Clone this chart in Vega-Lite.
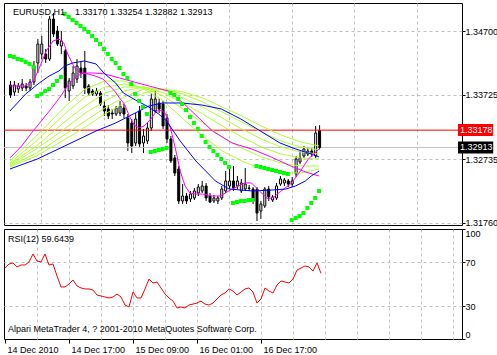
{
  "$schema": "https://vega.github.io/schema/vega-lite/v6.json",
  "padding": {"left": 2, "top": 2, "right": 0, "bottom": 0},
  "background": "white",
  "spacing": 4,
  "bounds": "flush",
  "config": {
    "view": {"stroke": "black", "strokeWidth": 1},
    "font": "Liberation Sans",
    "axis": {"labelFont": "Liberation Sans", "labelFontSize": 9, "labelColor": "black", "tickColor": "black", "gridColor": "#c0c0c0", "gridDash": [3, 3], "gridOpacity": 1, "domain": false}
  },
  "datasets": {
    "candles": [
      {"i":0,"o":1.33871,"h":1.33933,"l":1.33672,"c":1.33718},
      {"i":1,"o":1.33764,"h":1.33933,"l":1.33702,"c":1.33871},
      {"i":2,"o":1.33810,"h":1.33902,"l":1.33748,"c":1.33856},
      {"i":3,"o":1.33825,"h":1.33963,"l":1.33779,"c":1.33886},
      {"i":4,"o":1.33856,"h":1.33902,"l":1.33779,"c":1.33825},
      {"i":5,"o":1.33825,"h":1.33963,"l":1.33779,"c":1.33917},
      {"i":6,"o":1.33917,"h":1.34240,"l":1.33871,"c":1.34163},
      {"i":7,"o":1.34209,"h":1.34577,"l":1.34055,"c":1.34500},
      {"i":8,"o":1.34347,"h":1.34623,"l":1.34270,"c":1.34500},
      {"i":9,"o":1.34347,"h":1.34424,"l":1.34209,"c":1.34270},
      {"i":10,"o":1.34270,"h":1.34930,"l":1.34240,"c":1.34884},
      {"i":11,"o":1.34884,"h":1.34976,"l":1.34608,"c":1.34654},
      {"i":12,"o":1.34700,"h":1.34777,"l":1.34470,"c":1.34500},
      {"i":13,"o":1.34470,"h":1.34700,"l":1.34347,"c":1.34547},
      {"i":14,"o":1.34393,"h":1.34424,"l":1.33672,"c":1.33825},
      {"i":15,"o":1.33779,"h":1.33979,"l":1.33626,"c":1.33933},
      {"i":16,"o":1.33856,"h":1.34163,"l":1.33810,"c":1.34055},
      {"i":17,"o":1.33963,"h":1.34270,"l":1.33902,"c":1.34163},
      {"i":18,"o":1.34132,"h":1.34240,"l":1.33979,"c":1.34055},
      {"i":19,"o":1.34132,"h":1.34393,"l":1.33733,"c":1.33825},
      {"i":20,"o":1.33856,"h":1.33886,"l":1.33702,"c":1.33748},
      {"i":21,"o":1.33779,"h":1.33810,"l":1.33702,"c":1.33733},
      {"i":22,"o":1.33733,"h":1.33825,"l":1.33702,"c":1.33779},
      {"i":23,"o":1.33748,"h":1.33779,"l":1.33549,"c":1.33579},
      {"i":24,"o":1.33549,"h":1.33626,"l":1.33395,"c":1.33472},
      {"i":25,"o":1.33503,"h":1.33564,"l":1.33349,"c":1.33395},
      {"i":26,"o":1.33441,"h":1.33503,"l":1.33349,"c":1.33426},
      {"i":27,"o":1.33426,"h":1.33549,"l":1.33395,"c":1.33518},
      {"i":28,"o":1.33441,"h":1.33626,"l":1.33395,"c":1.33549},
      {"i":29,"o":1.33518,"h":1.33579,"l":1.33365,"c":1.33426},
      {"i":30,"o":1.33365,"h":1.33426,"l":1.32858,"c":1.32981},
      {"i":31,"o":1.33288,"h":1.33349,"l":1.32827,"c":1.32935},
      {"i":32,"o":1.32981,"h":1.33441,"l":1.32935,"c":1.33349},
      {"i":33,"o":1.33472,"h":1.33549,"l":1.32904,"c":1.32966},
      {"i":34,"o":1.32981,"h":1.33196,"l":1.32827,"c":1.33088},
      {"i":35,"o":1.33012,"h":1.33288,"l":1.32966,"c":1.33211},
      {"i":36,"o":1.33211,"h":1.33748,"l":1.33165,"c":1.33656},
      {"i":37,"o":1.33472,"h":1.33779,"l":1.33441,"c":1.33656},
      {"i":38,"o":1.33595,"h":1.33672,"l":1.33441,"c":1.33503},
      {"i":39,"o":1.33579,"h":1.33626,"l":1.33196,"c":1.33242},
      {"i":40,"o":1.33365,"h":1.33426,"l":1.32981,"c":1.33042},
      {"i":41,"o":1.33042,"h":1.33088,"l":1.32674,"c":1.32705},
      {"i":42,"o":1.32751,"h":1.32797,"l":1.32474,"c":1.32520},
      {"i":43,"o":1.32582,"h":1.32628,"l":1.32045,"c":1.32091},
      {"i":44,"o":1.32091,"h":1.32351,"l":1.32045,"c":1.32167},
      {"i":45,"o":1.32167,"h":1.32213,"l":1.32045,"c":1.32091},
      {"i":46,"o":1.32121,"h":1.32244,"l":1.32075,"c":1.32198},
      {"i":47,"o":1.32137,"h":1.32290,"l":1.32106,"c":1.32244},
      {"i":48,"o":1.32213,"h":1.32351,"l":1.32167,"c":1.32305},
      {"i":49,"o":1.32244,"h":1.32398,"l":1.32213,"c":1.32321},
      {"i":50,"o":1.32321,"h":1.32367,"l":1.32091,"c":1.32137},
      {"i":51,"o":1.32167,"h":1.32213,"l":1.32060,"c":1.32075},
      {"i":52,"o":1.32091,"h":1.32183,"l":1.32060,"c":1.32137},
      {"i":53,"o":1.32091,"h":1.32167,"l":1.32045,"c":1.32137},
      {"i":54,"o":1.32137,"h":1.32321,"l":1.32106,"c":1.32274},
      {"i":55,"o":1.32244,"h":1.32551,"l":1.32213,"c":1.32398},
      {"i":56,"o":1.32321,"h":1.32628,"l":1.32274,"c":1.32398},
      {"i":57,"o":1.32398,"h":1.32628,"l":1.32244,"c":1.32290},
      {"i":58,"o":1.32321,"h":1.32474,"l":1.32274,"c":1.32398},
      {"i":59,"o":1.32244,"h":1.32428,"l":1.32213,"c":1.32367},
      {"i":60,"o":1.32274,"h":1.32597,"l":1.32244,"c":1.32351},
      {"i":61,"o":1.32290,"h":1.32336,"l":1.32244,"c":1.32285},
      {"i":62,"o":1.32274,"h":1.32305,"l":1.32045,"c":1.32091},
      {"i":63,"o":1.32274,"h":1.32305,"l":1.31783,"c":1.31906},
      {"i":64,"o":1.31937,"h":1.32091,"l":1.31814,"c":1.32045},
      {"i":65,"o":1.32014,"h":1.32305,"l":1.31983,"c":1.32274},
      {"i":66,"o":1.32274,"h":1.32321,"l":1.32091,"c":1.32152},
      {"i":67,"o":1.32106,"h":1.32183,"l":1.32075,"c":1.32152},
      {"i":68,"o":1.32137,"h":1.32367,"l":1.32106,"c":1.32321},
      {"i":69,"o":1.32351,"h":1.32474,"l":1.32321,"c":1.32428},
      {"i":70,"o":1.32367,"h":1.32444,"l":1.32321,"c":1.32413},
      {"i":71,"o":1.32398,"h":1.32428,"l":1.32305,"c":1.32351},
      {"i":72,"o":1.32351,"h":1.32459,"l":1.32305,"c":1.32398},
      {"i":73,"o":1.32505,"h":1.32781,"l":1.32459,"c":1.32735},
      {"i":74,"o":1.32689,"h":1.32858,"l":1.32658,"c":1.32751},
      {"i":75,"o":1.32781,"h":1.32935,"l":1.32751,"c":1.32889},
      {"i":76,"o":1.32812,"h":1.32919,"l":1.32781,"c":1.32858},
      {"i":77,"o":1.32858,"h":1.32904,"l":1.32766,"c":1.32812},
      {"i":78,"o":1.32781,"h":1.33242,"l":1.32751,"c":1.33134},
      {"i":79,"o":1.33170,"h":1.33254,"l":1.32882,"c":1.32913}
    ],
    "ma": [
      {"s":"g1","i":0,"v":1.32705},{"s":"g1","i":6.75,"v":1.33088},{"s":"g1","i":14.25,"v":1.33549},{"s":"g1","i":19.25,"v":1.33810},{"s":"g1","i":24.25,"v":1.33933},{"s":"g1","i":29.25,"v":1.33933},{"s":"g1","i":34.25,"v":1.33810},{"s":"g1","i":39.25,"v":1.33626},{"s":"g1","i":44.25,"v":1.33349},{"s":"g1","i":49.25,"v":1.33088},{"s":"g1","i":54.25,"v":1.32858},{"s":"g1","i":59.25,"v":1.32705},{"s":"g1","i":64.25,"v":1.32582},{"s":"g1","i":69.25,"v":1.32520},{"s":"g1","i":74.25,"v":1.32520},{"s":"g1","i":79,"v":1.32582},
      {"s":"g2","i":0,"v":1.32674},{"s":"g2","i":6.75,"v":1.33012},{"s":"g2","i":14.25,"v":1.33441},{"s":"g2","i":19.25,"v":1.33687},{"s":"g2","i":24.25,"v":1.33840},{"s":"g2","i":29.25,"v":1.33886},{"s":"g2","i":34.25,"v":1.33825},{"s":"g2","i":39.25,"v":1.33702},{"s":"g2","i":44.25,"v":1.33503},{"s":"g2","i":49.25,"v":1.33288},{"s":"g2","i":54.25,"v":1.33073},{"s":"g2","i":59.25,"v":1.32904},{"s":"g2","i":64.25,"v":1.32766},{"s":"g2","i":69.25,"v":1.32674},{"s":"g2","i":74.25,"v":1.32628},{"s":"g2","i":79,"v":1.32628},
      {"s":"g3","i":0,"v":1.32658},{"s":"g3","i":6.75,"v":1.32935},{"s":"g3","i":14.25,"v":1.33319},{"s":"g3","i":19.25,"v":1.33549},{"s":"g3","i":24.25,"v":1.33748},{"s":"g3","i":29.25,"v":1.33840},{"s":"g3","i":34.25,"v":1.33840},{"s":"g3","i":39.25,"v":1.33748},{"s":"g3","i":44.25,"v":1.33595},{"s":"g3","i":49.25,"v":1.33426},{"s":"g3","i":54.25,"v":1.33242},{"s":"g3","i":59.25,"v":1.33073},{"s":"g3","i":64.25,"v":1.32919},{"s":"g3","i":69.25,"v":1.32812},{"s":"g3","i":74.25,"v":1.32751},{"s":"g3","i":79,"v":1.32735},
      {"s":"g4","i":0,"v":1.32643},{"s":"g4","i":6.75,"v":1.32889},{"s":"g4","i":14.25,"v":1.33211},{"s":"g4","i":19.25,"v":1.33441},{"s":"g4","i":24.25,"v":1.33626},{"s":"g4","i":29.25,"v":1.33779},{"s":"g4","i":34.25,"v":1.33840},{"s":"g4","i":39.25,"v":1.33794},{"s":"g4","i":44.25,"v":1.33672},{"s":"g4","i":49.25,"v":1.33533},{"s":"g4","i":54.25,"v":1.33365},{"s":"g4","i":59.25,"v":1.33196},{"s":"g4","i":64.25,"v":1.33042},{"s":"g4","i":69.25,"v":1.32919},{"s":"g4","i":74.25,"v":1.32843},{"s":"g4","i":79,"v":1.32812},
      {"s":"g5","i":0,"v":1.32628},{"s":"g5","i":6.75,"v":1.32827},{"s":"g5","i":14.25,"v":1.33119},{"s":"g5","i":19.25,"v":1.33319},{"s":"g5","i":24.25,"v":1.33518},{"s":"g5","i":29.25,"v":1.33687},{"s":"g5","i":34.25,"v":1.33810},{"s":"g5","i":39.25,"v":1.33810},{"s":"g5","i":44.25,"v":1.33733},{"s":"g5","i":49.25,"v":1.33610},{"s":"g5","i":54.25,"v":1.33457},{"s":"g5","i":59.25,"v":1.33303},{"s":"g5","i":64.25,"v":1.33150},{"s":"g5","i":69.25,"v":1.33012},{"s":"g5","i":74.25,"v":1.32919},{"s":"g5","i":79,"v":1.32873},
      {"s":"g6","i":0,"v":1.32612},{"s":"g6","i":6.75,"v":1.32781},{"s":"g6","i":14.25,"v":1.33042},{"s":"g6","i":19.25,"v":1.33226},{"s":"g6","i":24.25,"v":1.33426},{"s":"g6","i":29.25,"v":1.33595},{"s":"g6","i":34.25,"v":1.33748},{"s":"g6","i":39.25,"v":1.33810},{"s":"g6","i":44.25,"v":1.33764},{"s":"g6","i":49.25,"v":1.33672},{"s":"g6","i":54.25,"v":1.33533},{"s":"g6","i":59.25,"v":1.33395},{"s":"g6","i":64.25,"v":1.33242},{"s":"g6","i":69.25,"v":1.33104},{"s":"g6","i":74.25,"v":1.32996},{"s":"g6","i":79,"v":1.32935},
      {"s":"m2","i":0,"v":1.32751},{"s":"m2","i":3,"v":1.32935},{"s":"m2","i":5.5,"v":1.33134},{"s":"m2","i":8,"v":1.33319},{"s":"m2","i":10.5,"v":1.33503},{"s":"m2","i":13,"v":1.33702},{"s":"m2","i":15,"v":1.33886},{"s":"m2","i":16.75,"v":1.33994},{"s":"m2","i":18.75,"v":1.34055},{"s":"m2","i":21.75,"v":1.34055},{"s":"m2","i":24.25,"v":1.34040},{"s":"m2","i":28,"v":1.33979},{"s":"m2","i":31.75,"v":1.33917},{"s":"m2","i":35.5,"v":1.33856},{"s":"m2","i":40.5,"v":1.33779},{"s":"m2","i":44.25,"v":1.33595},{"s":"m2","i":48,"v":1.33380},{"s":"m2","i":51.75,"v":1.33165},{"s":"m2","i":56.75,"v":1.32981},{"s":"m2","i":61.75,"v":1.32889},{"s":"m2","i":66.75,"v":1.32766},{"s":"m2","i":71.75,"v":1.32628},{"s":"m2","i":75.5,"v":1.32536},{"s":"m2","i":79,"v":1.32474},
      {"s":"bB","i":0,"v":1.32582},{"s":"bB","i":7,"v":1.32735},{"s":"bB","i":14,"v":1.32935},{"s":"bB","i":22,"v":1.33165},{"s":"bB","i":27,"v":1.33288},{"s":"bB","i":32,"v":1.33441},{"s":"bB","i":35.5,"v":1.33549},{"s":"bB","i":39,"v":1.33595},{"s":"bB","i":44,"v":1.33595},{"s":"bB","i":49,"v":1.33564},{"s":"bB","i":54,"v":1.33503},{"s":"bB","i":59,"v":1.33349},{"s":"bB","i":64,"v":1.33165},{"s":"bB","i":69,"v":1.32981},{"s":"bB","i":73,"v":1.32889},{"s":"bB","i":77,"v":1.32812},{"s":"bB","i":79,"v":1.32766},
      {"s":"m1","i":0,"v":1.33856},{"s":"m1","i":4,"v":1.33856},{"s":"m1","i":6,"v":1.33933},{"s":"m1","i":7.5,"v":1.34132},{"s":"m1","i":9.25,"v":1.34393},{"s":"m1","i":11,"v":1.34547},{"s":"m1","i":12.5,"v":1.34577},{"s":"m1","i":13.75,"v":1.34516},{"s":"m1","i":14.75,"v":1.34347},{"s":"m1","i":16,"v":1.34194},{"s":"m1","i":16.75,"v":1.34117},{"s":"m1","i":18,"v":1.34055},{"s":"m1","i":20,"v":1.34040},{"s":"m1","i":21.75,"v":1.34009},{"s":"m1","i":23.75,"v":1.33963},{"s":"m1","i":25.5,"v":1.33856},{"s":"m1","i":26.75,"v":1.33779},{"s":"m1","i":28,"v":1.33672},{"s":"m1","i":29.25,"v":1.33579},{"s":"m1","i":30.5,"v":1.33395},{"s":"m1","i":31.75,"v":1.33257},{"s":"m1","i":33,"v":1.33211},{"s":"m1","i":34.25,"v":1.33242},{"s":"m1","i":36,"v":1.33349},{"s":"m1","i":37.5,"v":1.33472},{"s":"m1","i":38.75,"v":1.33487},{"s":"m1","i":39.75,"v":1.33426},{"s":"m1","i":41,"v":1.33211},{"s":"m1","i":42.25,"v":1.32904},{"s":"m1","i":43.5,"v":1.32551},{"s":"m1","i":44.75,"v":1.32321},{"s":"m1","i":46,"v":1.32213},{"s":"m1","i":47.5,"v":1.32198},{"s":"m1","i":49.25,"v":1.32198},{"s":"m1","i":51.75,"v":1.32167},{"s":"m1","i":53.75,"v":1.32167},{"s":"m1","i":56.75,"v":1.32274},{"s":"m1","i":60,"v":1.32367},{"s":"m1","i":61.75,"v":1.32367},{"s":"m1","i":63.75,"v":1.32244},{"s":"m1","i":66,"v":1.32121},{"s":"m1","i":67.5,"v":1.32152},{"s":"m1","i":69.25,"v":1.32244},{"s":"m1","i":71.75,"v":1.32351},{"s":"m1","i":74.25,"v":1.32551},{"s":"m1","i":76.25,"v":1.32735},{"s":"m1","i":79,"v":1.32889},
      {"s":"bA","i":0,"v":1.33472},{"s":"bA","i":4,"v":1.33733},{"s":"bA","i":7.5,"v":1.33902},{"s":"bA","i":10,"v":1.34009},{"s":"bA","i":12.5,"v":1.34086},{"s":"bA","i":14,"v":1.34163},{"s":"bA","i":16,"v":1.34209},{"s":"bA","i":19,"v":1.34240},{"s":"bA","i":22,"v":1.34194},{"s":"bA","i":24,"v":1.34055},{"s":"bA","i":27,"v":1.33902},{"s":"bA","i":29,"v":1.33748},{"s":"bA","i":32.5,"v":1.33626},{"s":"bA","i":35.5,"v":1.33533},{"s":"bA","i":38,"v":1.33426},{"s":"bA","i":40,"v":1.33319},{"s":"bA","i":43.5,"v":1.33012},{"s":"bA","i":47.5,"v":1.32705},{"s":"bA","i":52.5,"v":1.32398},{"s":"bA","i":56,"v":1.32274},{"s":"bA","i":62,"v":1.32244},{"s":"bA","i":67,"v":1.32259},{"s":"bA","i":70.5,"v":1.32274},{"s":"bA","i":73,"v":1.32321},{"s":"bA","i":75.5,"v":1.32398},{"s":"bA","i":77,"v":1.32474},{"s":"bA","i":79,"v":1.32551}
    ],
    "sar": [
      {"i":0,"v":1.34316},{"i":1,"v":1.34301},{"i":2,"v":1.34270},{"i":3,"v":1.34255},{"i":4,"v":1.34224},{"i":5,"v":1.34194},{"i":6,"v":1.34147},
      {"i":7,"v":1.33702},{"i":8,"v":1.33733},{"i":9,"v":1.33779},{"i":10,"v":1.33810},{"i":11,"v":1.33871},{"i":12,"v":1.33933},{"i":13,"v":1.33994},
      {"i":14,"v":1.34961},{"i":15,"v":1.34915},{"i":16,"v":1.34869},{"i":17,"v":1.34823},{"i":18,"v":1.34777},{"i":19,"v":1.34731},{"i":20,"v":1.34685},{"i":21,"v":1.34623},{"i":22,"v":1.34562},{"i":23,"v":1.34500},{"i":24,"v":1.34424},{"i":25,"v":1.34347},{"i":26,"v":1.34270},{"i":27,"v":1.34209},{"i":28,"v":1.34132},{"i":29,"v":1.34040},{"i":30,"v":1.33979},{"i":31,"v":1.33886},{"i":32,"v":1.33733},{"i":33,"v":1.33626},{"i":34,"v":1.33533},{"i":35,"v":1.33426},
      {"i":36,"v":1.32843},{"i":37,"v":1.32858},{"i":38,"v":1.32873},{"i":39,"v":1.32889},{"i":40,"v":1.32904},
      {"i":41,"v":1.33748},{"i":42,"v":1.33718},{"i":43,"v":1.33656},{"i":44,"v":1.33579},{"i":45,"v":1.33487},{"i":46,"v":1.33380},{"i":47,"v":1.33288},{"i":48,"v":1.33196},{"i":49,"v":1.33088},{"i":50,"v":1.32996},{"i":51,"v":1.32919},{"i":52,"v":1.32858},{"i":53,"v":1.32797},{"i":54,"v":1.32735},{"i":55,"v":1.32674},{"i":56,"v":1.32612},
      {"i":57,"v":1.32060},{"i":58,"v":1.32075},{"i":59,"v":1.32091},{"i":60,"v":1.32091},{"i":61,"v":1.32106},{"i":62,"v":1.32106},
      {"i":63,"v":1.32628},{"i":64,"v":1.32612},{"i":65,"v":1.32597},{"i":66,"v":1.32582},{"i":67,"v":1.32566},{"i":68,"v":1.32551},{"i":69,"v":1.32536},{"i":70,"v":1.32520},{"i":71,"v":1.32505},
      {"i":72,"v":1.31799},{"i":73,"v":1.31830},{"i":74,"v":1.31860},{"i":75,"v":1.31906},{"i":76,"v":1.31983},{"i":77,"v":1.32060},{"i":78,"v":1.32137},{"i":79,"v":1.32244}
    ],
    "rsi": [
      {"i":0,"v":64.5},{"i":1,"v":68.2},{"i":2,"v":69.1},{"i":3,"v":65.5},{"i":4,"v":67.3},{"i":5,"v":67.3},{"i":6,"v":70.0},{"i":7,"v":77.3},{"i":8,"v":70.9},{"i":9,"v":70.0},
      {"i":10,"v":77.3},{"i":11,"v":67.3},{"i":12,"v":68.2},{"i":13,"v":57.3},{"i":14,"v":47.3},{"i":15,"v":47.3},{"i":16,"v":50.0},{"i":17,"v":53.6},{"i":18,"v":48.2},{"i":19,"v":46.4},
      {"i":20,"v":45.5},{"i":21,"v":45.5},{"i":22,"v":44.5},{"i":23,"v":40.0},{"i":24,"v":39.1},{"i":25,"v":38.2},{"i":26,"v":37.3},{"i":27,"v":38.2},{"i":28,"v":40.9},{"i":29,"v":38.2},
      {"i":30,"v":30.9},{"i":31,"v":29.1},{"i":32,"v":42.7},{"i":33,"v":37.3},{"i":34,"v":37.3},{"i":35,"v":45.5},{"i":36,"v":54.5},{"i":37,"v":50.9},{"i":38,"v":51.8},{"i":39,"v":46.4},
      {"i":40,"v":40.9},{"i":41,"v":37.3},{"i":42,"v":34.5},{"i":43,"v":28.2},{"i":44,"v":29.1},{"i":45,"v":28.2},{"i":46,"v":30.9},{"i":47,"v":31.8},{"i":48,"v":32.7},{"i":49,"v":34.5},
      {"i":50,"v":31.8},{"i":51,"v":30.9},{"i":52,"v":32.7},{"i":53,"v":36.4},{"i":54,"v":40.0},{"i":55,"v":41.8},{"i":56,"v":45.5},{"i":57,"v":43.6},{"i":58,"v":40.0},{"i":59,"v":42.7},
      {"i":60,"v":45.5},{"i":61,"v":46.4},{"i":62,"v":42.7},{"i":63,"v":32.7},{"i":64,"v":36.4},{"i":65,"v":46.4},{"i":66,"v":43.6},{"i":67,"v":41.8},{"i":68,"v":49.1},{"i":69,"v":52.7},
      {"i":70,"v":51.8},{"i":71,"v":50.9},{"i":72,"v":54.5},{"i":73,"v":62.7},{"i":74,"v":64.5},{"i":75,"v":66.4},{"i":76,"v":65.5},{"i":77,"v":61.8},{"i":78,"v":69.1},{"i":79,"v":59.6439}
    ]
  },
  "vconcat": [
    {
      "width": 458,
      "height": 222,
      "layer": [
        {
          "data": {"name": "candles"},
          "mark": {"type": "rule", "color": "black", "strokeWidth": 1, "xOffset": 0.5},
          "encoding": {
            "x": {"field": "i", "type": "quantitative", "scale": {"domain": [-0.25, 114.25], "nice": false, "zero": false},
                  "axis": {"values": [8,16,24,32,40,48,56,64,72,80,88,96,104,112], "grid": true, "labels": false, "ticks": false, "domain": false, "title": null}},
            "y": {"field": "l", "type": "quantitative", "scale": {"domain": [1.31722, 1.3513], "nice": false, "zero": false},
                  "axis": {"orient": "right", "values": [1.347, 1.3422, 1.33725, 1.3323, 1.32735, 1.3224, 1.3176], "format": ".5f", "grid": true, "tickSize": 3, "labelPadding": 0, "title": null, "labelOverlap": false, "labelFlush": false, "labelBound": false}},
            "y2": {"field": "h"}
          }
        },
        {
          "data": {"values": [{}]},
          "mark": {"type": "rule", "color": "#c0c0c0", "strokeWidth": 1},
          "encoding": {"y": {"datum": 1.32913, "type": "quantitative"}}
        },
        {
          "data": {"name": "candles"},
          "mark": {"type": "bar", "size": 2, "stroke": "black", "strokeWidth": 1, "xOffset": 0.5},
          "encoding": {
            "x": {"field": "i", "type": "quantitative", "scale": {"domain": [-0.25, 114.25], "nice": false, "zero": false}},
            "y": {"field": "o", "type": "quantitative", "scale": {"domain": [1.31722, 1.3513], "nice": false, "zero": false}},
            "y2": {"field": "c"},
            "fill": {"condition": {"test": "datum.c >= datum.o", "value": "white"}, "value": "black"}
          }
        },
        {
          "data": {"values": [{}]},
          "mark": {"type": "rule", "color": "#ff0000", "strokeWidth": 1},
          "encoding": {"y": {"datum": 1.33178, "type": "quantitative"}}
        },
        {
          "data": {"name": "ma"},
          "mark": {"type": "line", "strokeWidth": 1},
          "encoding": {
            "x": {"field": "i", "type": "quantitative", "scale": {"domain": [-0.25, 114.25], "nice": false, "zero": false}},
            "y": {"field": "v", "type": "quantitative", "scale": {"domain": [1.31722, 1.3513], "nice": false, "zero": false}},
            "color": {"field": "s", "type": "nominal", "legend": null,
                      "scale": {"domain": ["g6","g5","g4","g3","g2","g1","m2","bB","m1","bA"],
                                "range": ["#adff2f","#adff2f","#adff2f","#adff2f","#adff2f","#adff2f","#ff00ff","#0000ff","#ff00ff","#0000ff"]}}
          }
        },
        {
          "data": {"name": "sar"},
          "mark": {"type": "point", "shape": "square", "filled": true, "size": 16, "color": "#00ff00", "opacity": 1},
          "encoding": {
            "x": {"field": "i", "type": "quantitative", "scale": {"domain": [-0.25, 114.25], "nice": false, "zero": false}},
            "y": {"field": "v", "type": "quantitative", "scale": {"domain": [1.31722, 1.3513], "nice": false, "zero": false}}
          }
        },
        {
          "data": {"values": [{}]},
          "mark": {"type": "text", "color": "black", "align": "left", "baseline": "alphabetic", "fontSize": 9, "font": "Liberation Sans"},
          "encoding": {
            "x": {"datum": 0.75, "type": "quantitative"},
            "y": {"datum": 1.34946, "type": "quantitative"},
            "text": {"value": "EURUSD,H1\u00a0\u00a0\u00a0\u00a01.33170 1.33254 1.32882 1.32913"}
          }
        },
        {
          "data": {"values": [{}]},
          "mark": {"type": "rect", "color": "#ff0000"},
          "encoding": {
            "x": {"datum": 114.5, "type": "quantitative"}, "x2": {"datum": 123.5},
            "y": {"datum": 1.33272, "type": "quantitative"}, "y2": {"datum": 1.33088}
          }
        },
        {
          "data": {"values": [{}]},
          "mark": {"type": "text", "color": "white", "align": "left", "baseline": "middle", "fontSize": 9, "font": "Liberation Sans"},
          "encoding": {
            "x": {"datum": 115, "type": "quantitative"},
            "y": {"datum": 1.33178, "type": "quantitative"},
            "text": {"value": "1.33178"}
          }
        },
        {
          "data": {"values": [{}]},
          "mark": {"type": "rect", "color": "black"},
          "encoding": {
            "x": {"datum": 114.5, "type": "quantitative"}, "x2": {"datum": 123.5},
            "y": {"datum": 1.33005, "type": "quantitative"}, "y2": {"datum": 1.32821}
          }
        },
        {
          "data": {"values": [{}]},
          "mark": {"type": "text", "color": "white", "align": "left", "baseline": "middle", "fontSize": 9, "font": "Liberation Sans"},
          "encoding": {
            "x": {"datum": 115, "type": "quantitative"},
            "y": {"datum": 1.32913, "type": "quantitative"},
            "text": {"value": "1.32913"}
          }
        }
      ]
    },
    {
      "width": 458,
      "height": 110,
      "layer": [
        {
          "data": {"name": "rsi"},
          "mark": {"type": "line", "color": "#ff0000", "strokeWidth": 1},
          "encoding": {
            "x": {"field": "i", "type": "quantitative", "scale": {"domain": [-0.25, 114.25], "nice": false, "zero": false},
                  "axis": {"values": [0,8,16,24,32,40,48,56,64,72,80,88,96,104,112], "grid": true,
                           "gridOpacity": {"condition": {"test": "datum.value == 0", "value": 0}, "value": 1},
                           "tickOpacity": {"condition": {"test": "datum.value % 16 == 0 && datum.value <= 64", "value": 1}, "value": 0},
                           "tickSize": 4, "labelPadding": 2, "labelAlign": "left", "labelBaseline": "top", "labelOffset": 2,
                           "labelFlush": false, "labelOverlap": false, "labelBound": false,
                           "labelExpr": "datum.value == 0 ? '14 Dec 2010' : datum.value == 16 ? '14 Dec 17:00' : datum.value == 32 ? '15 Dec 09:00' : datum.value == 48 ? '16 Dec 01:00' : datum.value == 64 ? '16 Dec 17:00' : ''",
                           "title": null}},
            "y": {"field": "v", "type": "quantitative", "scale": {"domain": [0, 100], "nice": false, "zero": false},
                  "axis": {"orient": "right", "values": [0, 30, 70, 100], "grid": true,
                           "gridOpacity": {"condition": {"test": "datum.value == 30 || datum.value == 70", "value": 1}, "value": 0},
                           "tickSize": 3, "labelPadding": 0, "labelFlush": true, "labelOverlap": false, "title": null}}
          }
        },
        {
          "data": {"values": [{}]},
          "mark": {"type": "text", "color": "black", "align": "left", "baseline": "alphabetic", "fontSize": 9, "font": "Liberation Sans"},
          "encoding": {
            "x": {"datum": 0.75, "type": "quantitative", "scale": {"domain": [-0.25, 114.25], "nice": false, "zero": false},
                  "axis": {"values": [0,8,16,24,32,40,48,56,64,72,80,88,96,104,112], "grid": true,
                           "gridOpacity": {"condition": {"test": "datum.value == 0", "value": 0}, "value": 1},
                           "tickOpacity": {"condition": {"test": "datum.value % 16 == 0 && datum.value <= 64", "value": 1}, "value": 0},
                           "tickSize": 4, "labelPadding": 2, "labelAlign": "left", "labelBaseline": "top", "labelOffset": 2,
                           "labelFlush": false, "labelOverlap": false, "labelBound": false,
                           "labelExpr": "datum.value == 0 ? '14 Dec 2010' : datum.value == 16 ? '14 Dec 17:00' : datum.value == 32 ? '15 Dec 09:00' : datum.value == 48 ? '16 Dec 01:00' : datum.value == 64 ? '16 Dec 17:00' : ''",
                           "title": null}},
            "y": {"datum": 88.2, "type": "quantitative", "scale": {"domain": [0, 100], "nice": false, "zero": false},
                  "axis": {"orient": "right", "values": [0, 30, 70, 100], "grid": true,
                           "gridOpacity": {"condition": {"test": "datum.value == 30 || datum.value == 70", "value": 1}, "value": 0},
                           "tickSize": 3, "labelPadding": 0, "labelFlush": true, "labelOverlap": false, "title": null}},
            "text": {"value": "RSI(12) 59.6439"}
          }
        },
        {
          "data": {"values": [{}]},
          "mark": {"type": "text", "color": "black", "align": "left", "baseline": "alphabetic", "fontSize": 9, "font": "Liberation Sans"},
          "encoding": {
            "x": {"datum": 0.75, "type": "quantitative", "scale": {"domain": [-0.25, 114.25], "nice": false, "zero": false},
                  "axis": {"values": [0,8,16,24,32,40,48,56,64,72,80,88,96,104,112], "grid": true,
                           "gridOpacity": {"condition": {"test": "datum.value == 0", "value": 0}, "value": 1},
                           "tickOpacity": {"condition": {"test": "datum.value % 16 == 0 && datum.value <= 64", "value": 1}, "value": 0},
                           "tickSize": 4, "labelPadding": 2, "labelAlign": "left", "labelBaseline": "top", "labelOffset": 2,
                           "labelFlush": false, "labelOverlap": false, "labelBound": false,
                           "labelExpr": "datum.value == 0 ? '14 Dec 2010' : datum.value == 16 ? '14 Dec 17:00' : datum.value == 32 ? '15 Dec 09:00' : datum.value == 48 ? '16 Dec 01:00' : datum.value == 64 ? '16 Dec 17:00' : ''",
                           "title": null}},
            "y": {"datum": 6.4, "type": "quantitative", "scale": {"domain": [0, 100], "nice": false, "zero": false},
                  "axis": {"orient": "right", "values": [0, 30, 70, 100], "grid": true,
                           "gridOpacity": {"condition": {"test": "datum.value == 30 || datum.value == 70", "value": 1}, "value": 0},
                           "tickSize": 3, "labelPadding": 0, "labelFlush": true, "labelOverlap": false, "title": null}},
            "text": {"value": "Alpari MetaTrader 4, ? 2001-2010 MetaQuotes Software Corp."}
          }
        }
      ]
    }
  ]
}
